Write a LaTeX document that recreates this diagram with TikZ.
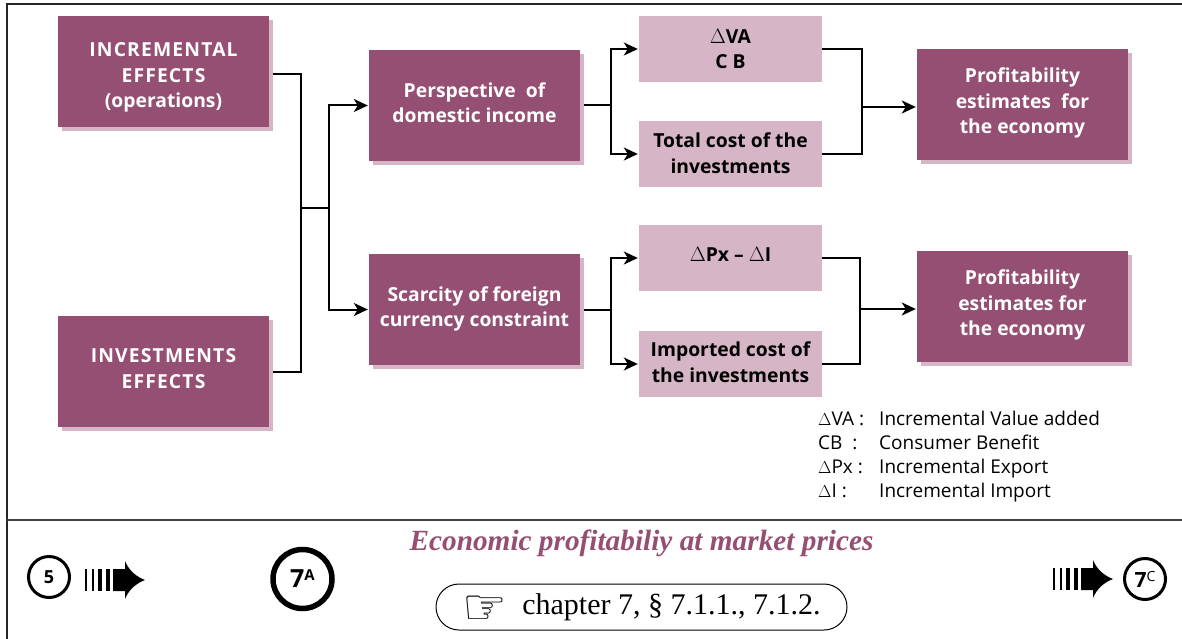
\documentclass[tikz,border=0pt]{standalone}
\usepackage{fontspec}
\setmainfont{Liberation Serif}
\setsansfont{Open Sans}
\newfontfamily\symfont{DejaVu Sans}
\usepackage{tikz}
\usetikzlibrary{arrows.meta}
\definecolor{plum}{HTML}{954F72}
\definecolor{lightplum}{HTML}{D5B5C6}
\def\stripearrow#1#2{\begin{scope}[shift={(#1,#2)}]
\fill (0,-11) rectangle (1.5,11);
\fill (7,-11) rectangle (8.5,11);
\fill (13,-11) rectangle (17,11);
\fill (21,-11) rectangle (25,11);
\fill (28,-11) -- (40,-11) -- (40,-19) .. controls (44,-9) and (52,-3) .. (60,0) .. controls (52,3) and (44,9) .. (40,19) -- (40,11) -- (28,11) -- cycle;
\end{scope}}
\def\backbox#1#2{\fill[lightplum] (#1+4,#2+4) rectangle (#1+215,#2+115);}
\tikzset{
  bigbox/.style={fill=plum,text=white,minimum width=211pt,minimum height=111pt,align=center,
    font=\sffamily\bfseries\fontsize{19.3}{25.5}\selectfont,inner sep=0pt},
  smallbox/.style={fill=lightplum,text=black,minimum width=183pt,minimum height=66pt,align=center,
    font=\sffamily\bfseries\fontsize{19.3}{25.5}\selectfont,inner sep=0pt},
  link/.style={draw=black,line width=2pt},
  linkto/.style={link,shorten >=1pt,-{Stealth[length=14pt,width=13pt,inset=4pt]}},
  ring/.style={circle,draw=black,inner sep=0pt,font=\sffamily\bfseries},
  legend/.style={anchor=base west,inner sep=0pt,font=\sffamily\fontsize{19}{24}\selectfont}
}
\begin{document}
\begin{tikzpicture}[x=1pt,y=-1pt]
\useasboundingbox (0,0) rectangle (1182,639);
\draw[line width=1.3pt,draw=black!85] (1182,4) -- (7,4) -- (7,639);
\draw[line width=1.3pt,draw=black!75] (7,520) -- (1182,520);
\backbox{58}{16}
\backbox{58}{316}
\backbox{369}{50}
\backbox{369}{254}
\backbox{917}{49}
\backbox{917}{251}
\node[bigbox] (incr) at (163.5,71.5) {\mbox{}\\[1pt]\addfontfeature{LetterSpace=6}INCREMENTAL\\\addfontfeature{LetterSpace=6}EFFECTS\\(operations)};
\node[bigbox] (inv) at (163.5,371.5) {\addfontfeature{LetterSpace=6}INVESTMENTS\\\addfontfeature{LetterSpace=6}EFFECTS\\[-20pt]\mbox{}};
\node[bigbox] (dom) at (474.5,105.5) {Perspective\ \ of\\domestic income\\[-20pt]\mbox{}};
\node[bigbox] (scar) at (474.5,309.5) {Scarcity of foreign\\currency constraint\\[-20pt]\mbox{}};
\node[smallbox] (va) at (730.5,49) {$\Delta$VA\\C B};
\node[smallbox] (tot) at (730.5,154) {Total cost of the\\investments\\[-24pt]\mbox{}};
\node[smallbox] (px) at (730.5,258) {$\Delta$Px -- $\Delta$I\\[-18pt]\mbox{}};
\node[smallbox] (imp) at (730.5,364) {Imported cost of\\the investments\\[-22pt]\mbox{}};
\node[bigbox] (prof) at (1022.5,104.5) {Profitability\\estimates\ \ for\\the economy\\[-18pt]\mbox{}};
\node[bigbox] (profb) at (1022.5,306.5) {Profitability\\estimates for\\the economy\\[-18pt]\mbox{}};
\coordinate (mid) at (301,208);
\coordinate (fork) at (329,208);
\coordinate (forka) at (611,105.5);
\coordinate (forkb) at (611,309.5);
\coordinate (joina) at (862,107);
\coordinate (joinb) at (860,309);
\draw[link,shorten <=4pt] ([yshift=-2.5pt]incr.east) -| (mid);
\draw[link,shorten <=4pt] (inv.east) -| (mid);
\draw[link] (mid) -- (fork);
\draw[linkto] (fork) |- (dom.west);
\draw[linkto] (fork) |- (scar.west);
\draw[link,shorten <=4pt] (dom.east) -- (forka);
\draw[linkto] (forka) |- (va.west);
\draw[linkto] (forka) |- (tot.west);
\draw[link,shorten <=4pt] (scar.east) -- (forkb);
\draw[linkto] (forkb) |- (px.west);
\draw[linkto] (forkb) |- (imp.west);
\draw[link] (va.east) -| (joina);
\draw[link] (tot.east) -| (joina);
\draw[linkto] (joina) -- (joina-|prof.west);
\draw[link] (px.east) -| (joinb);
\draw[link] (imp.east) -| (joinb);
\draw[linkto] (joinb) -- (joinb-|profb.west);
\node[legend] (la) at (818,425) {$\Delta$VA :};
\node[legend] (lb) at (818,449) {CB\ \ :};
\node[legend] (lc) at (818,473) {$\Delta$Px :};
\node[legend] (ld) at (818,497) {$\Delta$I :};
\node[legend] (ta) at (879,425) {Incremental Value added};
\node[legend] (tb) at (879,449) {Consumer Benefit};
\node[legend] (tc) at (879,473) {Incremental Export};
\node[legend] (td) at (879,497) {Incremental Import};
\node[ring,line width=3pt,minimum size=41pt] (prev) at (49,577) {\fontsize{18}{20}\selectfont 5};
\node[ring,line width=5.5pt,minimum size=59pt] (here) at (302.5,579) {\fontsize{25}{28}\selectfont 7\raisebox{7pt}{\fontsize{15}{16}\selectfont A}};
\node[ring,line width=3pt,minimum size=41pt] (next) at (1145,579) {\fontsize{21}{22}\selectfont 7\raisebox{6pt}{\mdseries\fontsize{14}{14}\selectfont C}};
\stripearrow{85}{580}
\stripearrow{1053}{579}
\node[inner sep=0pt,text=plum,font=\rmfamily\bfseries\itshape\fontsize{29.3}{32}\selectfont] (title) at (641.5,543) {Economic profitabiliy at market prices};
\node[draw=black,line width=1pt,rounded corners=23pt,minimum width=411pt,minimum height=46pt,inner sep=0pt,
  font=\rmfamily\fontsize{30}{32}\selectfont] (ref) at (641.5,607) {\smash{\raisebox{-11pt}{\symfont\fontsize{50}{30}\selectfont ☞}}\ \ \raisebox{-1pt}{chapter 7, § 7.1.1., 7.1.2.}};
\end{tikzpicture}
\end{document}
